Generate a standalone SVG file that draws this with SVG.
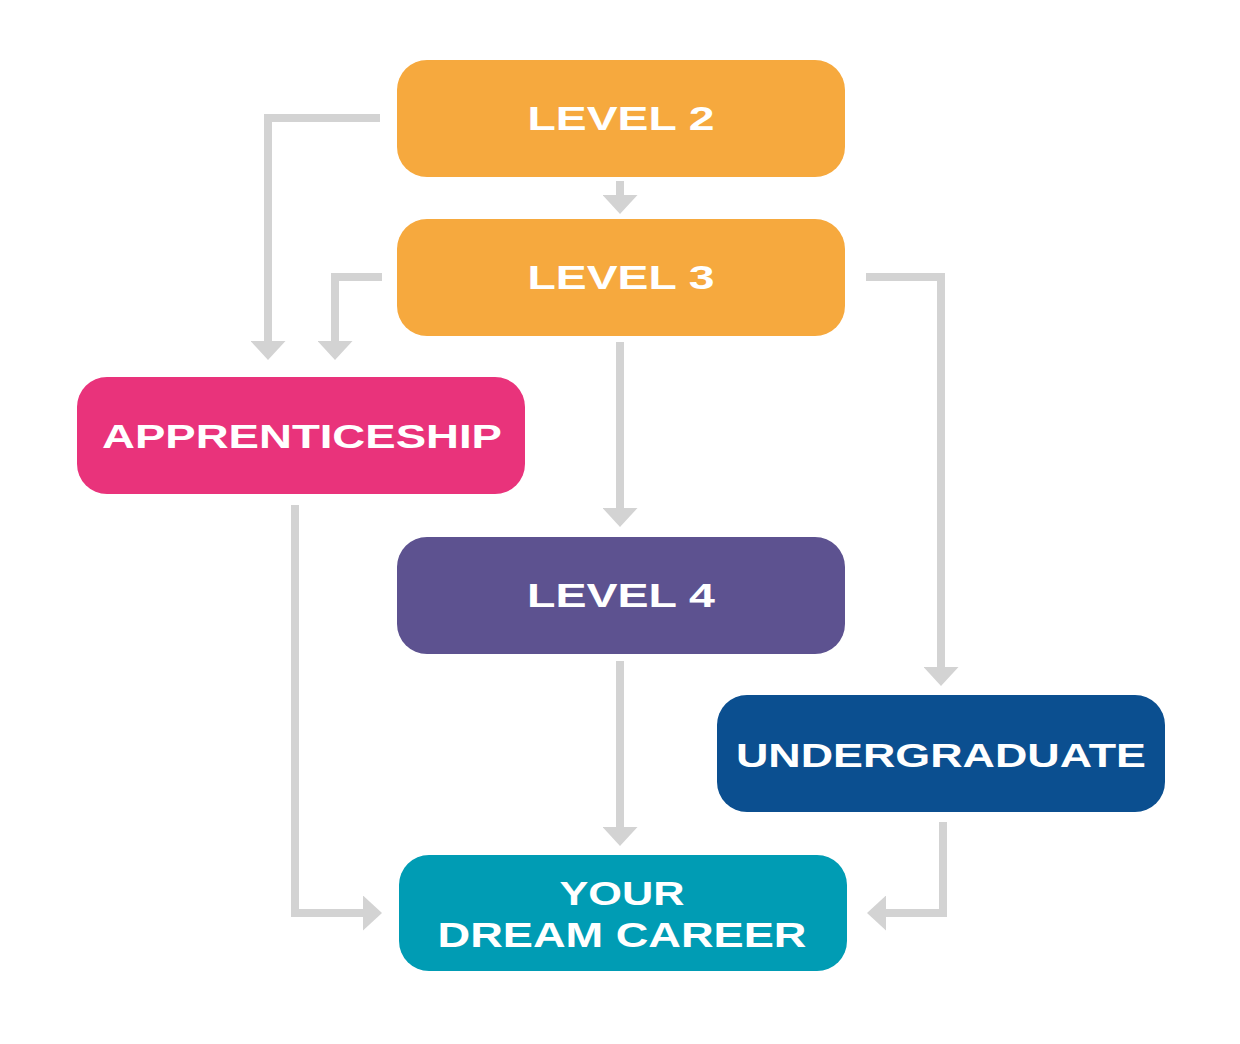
<svg xmlns="http://www.w3.org/2000/svg" width="1240" height="1044" viewBox="0 0 1240 1044">
<defs>
<marker id="arrow" viewBox="0 0 19 35" markerWidth="19" markerHeight="35" markerUnits="userSpaceOnUse" refX="1" refY="17.5" orient="auto">
<path d="M0,0 L19,17.5 L0,35 Z" fill="#d3d3d3"/>
</marker>
</defs>
<style>
.conn{fill:none;stroke:#d3d3d3;stroke-width:8;stroke-linecap:butt;stroke-linejoin:miter;marker-end:url(#arrow)}
.lbl{font-family:"Liberation Sans",Arial,sans-serif;font-weight:bold;fill:#ffffff;text-anchor:middle}
</style>
<rect width="1240" height="1044" fill="#ffffff"/>
<g id="connectors">
<path class="conn" d="M380,118 H268 V342"/>
<path class="conn" d="M382,277 H335 V342"/>
<path class="conn" d="M620,181 V196"/>
<path class="conn" d="M620,342 V509"/>
<path class="conn" d="M866,277 H941 V668"/>
<path class="conn" d="M620,661 V828"/>
<path class="conn" d="M295,505 V913 H364"/>
<path class="conn" d="M943,822 V913 H885"/>
</g>
<g id="level2">
<rect x="397" y="60" width="448" height="117" rx="30" fill="#f6a93e"/>
<text class="lbl" x="621" y="130" font-size="33.5" textLength="187" lengthAdjust="spacingAndGlyphs">LEVEL 2</text>
</g>
<g id="level3">
<rect x="397" y="219" width="448" height="117" rx="30" fill="#f6a93e"/>
<text class="lbl" x="621" y="289" font-size="33.5" textLength="187" lengthAdjust="spacingAndGlyphs">LEVEL 3</text>
</g>
<g id="apprenticeship">
<rect x="77" y="377" width="448" height="117" rx="30" fill="#e9337b"/>
<text class="lbl" x="302" y="448" font-size="32.5" textLength="400" lengthAdjust="spacingAndGlyphs">APPRENTICESHIP</text>
</g>
<g id="level4">
<rect x="397" y="537" width="448" height="117" rx="30" fill="#5d5290"/>
<text class="lbl" x="621" y="607" font-size="33.5" textLength="188" lengthAdjust="spacingAndGlyphs">LEVEL 4</text>
</g>
<g id="undergraduate">
<rect x="717" y="695" width="448" height="117" rx="30" fill="#0b4f90"/>
<text class="lbl" x="941" y="767" font-size="34" textLength="410" lengthAdjust="spacingAndGlyphs">UNDERGRADUATE</text>
</g>
<g id="dream-career">
<rect x="399" y="855" width="448" height="116" rx="30" fill="#009cb4"/>
<text class="lbl" x="622" y="905" font-size="34" textLength="125" lengthAdjust="spacingAndGlyphs">YOUR</text>
<text class="lbl" x="622" y="947" font-size="35" textLength="369" lengthAdjust="spacingAndGlyphs">DREAM CAREER</text>
</g>
</svg>
